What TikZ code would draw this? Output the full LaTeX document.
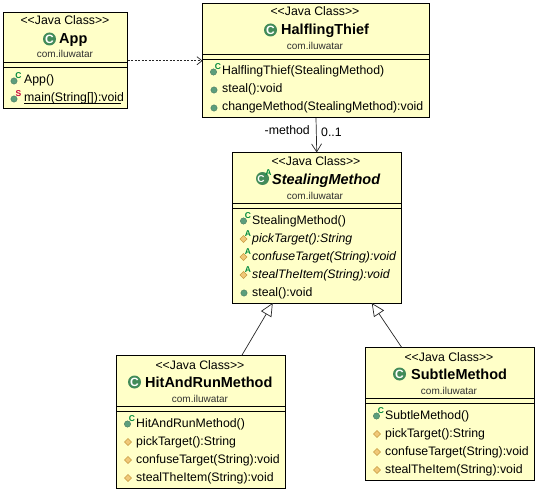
\documentclass[tikz,border=0pt]{standalone}
\usepackage{fontspec}
\setmainfont{Liberation Sans}
\usetikzlibrary{arrows.meta,calc}
\definecolor{boxfill}{HTML}{FFFFC8}
\definecolor{dotgreen}{HTML}{5C9E7C}
\definecolor{ctorgreen}{HTML}{008A3C}
\definecolor{statred}{HTML}{C8003C}
\definecolor{diam}{HTML}{F0C878}
\definecolor{diamedge}{HTML}{C89A40}
\definecolor{pkg}{HTML}{303030}
\tikzset{
  classbox/.style={draw=black,line width=1pt,fill=boxfill,inner sep=0pt,outer sep=0pt},
  divider/.style={line width=1pt,draw=black},
  stereo/.style={inner sep=0pt,anchor=base,font=\fontsize{12.3}{12.3}\selectfont},
  title/.style={inner sep=0pt,anchor=base west,font=\fontsize{14.5}{14.5}\selectfont\bfseries},
  pkgtext/.style={inner sep=0pt,anchor=base,text=pkg,font=\fontsize{10}{10}\selectfont},
  member/.style={inner sep=0pt,anchor=base west,font=\fontsize{12.3}{12.3}\selectfont},
  imember/.style={member,font=\fontsize{12.3}{12.3}\selectfont\itshape},
  wire/.style={line width=0.7pt,draw=black!85},
  badge/.style={inner sep=0pt,font=\fontsize{8.5}{8.5}\selectfont\bfseries},
}
\newcommand{\pubdot}[2]{\fill[dotgreen,draw=dotgreen!70!black,line width=.3pt] (#1,#2) circle (3.2pt);}
\newcommand{\ctordot}[2]{\fill[dotgreen,draw=dotgreen!70!black,line width=.3pt] (#1-.5,#2+1) circle (3.2pt);
  \node[badge,text=ctorgreen] at (#1+4,#2-4) {C};}
\newcommand{\statdot}[2]{\fill[dotgreen,draw=dotgreen!70!black,line width=.3pt] (#1-.5,#2+1) circle (3.2pt);
  \node[badge,text=statred] at (#1+4,#2-4) {S};}
\newcommand{\prodiam}[2]{\filldraw[fill=diam,draw=diamedge,line width=.4pt] (#1-3.5,#2) -- (#1,#2-3.5) -- (#1+3.5,#2) -- (#1,#2+3.5) -- cycle;}
\newcommand{\absdiam}[2]{\filldraw[fill=diam,draw=diamedge,line width=.4pt] (#1-4,#2+1) -- (#1-.5,#2-2.5) -- (#1+3,#2+1) -- (#1-.5,#2+4.5) -- cycle;
  \node[badge,text=ctorgreen] at (#1+4,#2-4) {A};}
\newcommand{\classicon}[2]{\fill[dotgreen!80!black!90!green] (#1,#2) circle (6.5pt);
  \node[inner sep=0pt,text=white,font=\fontsize{12}{12}\selectfont\bfseries] at (#1,#2) {C};}
\newcommand{\absicon}[2]{\fill[dotgreen!80!black!90!green] (#1,#2) circle (6.5pt);
  \node[inner sep=0pt,text=white,font=\fontsize{10}{10}\selectfont\bfseries] at (#1-1.5,#2+.5) {C};}
\begin{document}
\begin{tikzpicture}[x=1pt,y=-1pt]
\useasboundingbox (0,0) rectangle (538,492);
% boxes
\node[classbox,minimum width=124pt,minimum height=96.5pt] (app) at (65.5,60.75) {};
\node[classbox,minimum width=227pt,minimum height=114.5pt] (thief) at (316,60.75) {};
\node[classbox,minimum width=168.5pt,minimum height=150.5pt] (stealing) at (316.75,227.75) {};
\node[classbox,minimum width=168.5pt,minimum height=133pt] (hit) at (200.75,422) {};
\node[classbox,minimum width=168.5pt,minimum height=133pt] (subtle) at (449.75,414) {};
% dividers
\draw[divider] (app.west |- 0,63) -- (app.east |- 0,63) (app.west |- 0,68) -- (app.east |- 0,68);
\draw[divider] (thief.west |- 0,54.5) -- (thief.east |- 0,54.5) (thief.west |- 0,59.5) -- (thief.east |- 0,59.5);
\draw[divider] (stealing.west |- 0,203) -- (stealing.east |- 0,203) (stealing.west |- 0,208) -- (stealing.east |- 0,208);
\draw[divider] (hit.west |- 0,406.5) -- (hit.east |- 0,406.5) (hit.west |- 0,411.5) -- (hit.east |- 0,411.5);
\draw[divider] (subtle.west |- 0,398.5) -- (subtle.east |- 0,398.5) (subtle.west |- 0,403.5) -- (subtle.east |- 0,403.5);
% App
\node[stereo] (appS) at (65,25) {<{}<Java Class>{}>};
\classicon{49.5}{39}
\node[title] (appT) at (59,44) {App};
\node[pkgtext] (appP) at (65,58) {com.iluwatar};
\ctordot{14.5}{80}
\node[member] (appM1) at (24,84) {App()};
\statdot{14.5}{98}
\node[member] (appM2) at (24,102) {\rlap{\rule[-1.6pt]{97pt}{.9pt}}main(String[]):void};
% Thief
\node[stereo] (thS) at (315,16) {<{}<Java Class>{}>};
\classicon{270.5}{30}
\node[title] (thT) at (281,35) {HalflingThief};
\node[pkgtext] (thP) at (315,49.5) {com.iluwatar};
\ctordot{214}{71}
\node[member] (thM1) at (222,75) {HalflingThief(StealingMethod)};
\pubdot{214}{90}
\node[member] (thM2) at (222,93) {steal():void};
\pubdot{214}{108}
\node[member] (thM3) at (222,111) {changeMethod(StealingMethod):void};
% Stealing
\node[stereo] (stS) at (316,165) {<{}<Java Class>{}>};
\absicon{262.5}{178.5}
\node[badge,text=ctorgreen] at (268.5,172.5) {A};
\node[title,font=\fontsize{14.5}{14.5}\selectfont\bfseries\itshape] (stT) at (272,184) {StealingMethod};
\node[pkgtext] (stP) at (315,199) {com.iluwatar};
\ctordot{244}{220}
\node[member] (stM1) at (252,224) {StealingMethod()};
\absdiam{244}{238}
\node[imember] (stM2) at (252,242) {pickTarget():String};
\absdiam{244}{256}
\node[imember] (stM3) at (252,260) {confuseTarget(String):void};
\absdiam{244}{274}
\node[imember] (stM4) at (252,278) {stealTheItem(String):void};
\pubdot{244}{293}
\node[member] (stM5) at (252,296) {steal():void};
% Hit
\node[stereo] (hiS) at (200,369) {<{}<Java Class>{}>};
\classicon{134.5}{382}
\node[title] (hiT) at (145,387) {HitAndRunMethod};
\node[pkgtext] (hiP) at (200,402) {com.iluwatar};
\ctordot{128}{423}
\node[member] (hiM1) at (136,427) {HitAndRunMethod()};
\prodiam{128}{442}
\node[member] (hiM2) at (136,445) {pickTarget():String};
\prodiam{128}{460}
\node[member] (hiM3) at (136,463) {confuseTarget(String):void};
\prodiam{128}{478}
\node[member] (hiM4) at (136,481) {stealTheItem(String):void};
% Subtle
\node[stereo] (suS) at (449,361) {<{}<Java Class>{}>};
\classicon{399.5}{374}
\node[title] (suT) at (411,379) {SubtleMethod};
\node[pkgtext] (suP) at (449,394) {com.iluwatar};
\ctordot{377}{415}
\node[member] (suM1) at (385,419) {SubtleMethod()};
\prodiam{377}{434}
\node[member] (suM2) at (385,437) {pickTarget():String};
\prodiam{377}{452}
\node[member] (suM3) at (385,455) {confuseTarget(String):void};
\prodiam{377}{470}
\node[member] (suM4) at (385,473) {stealTheItem(String):void};
% connectors
\draw[wire,dashed,dash pattern=on 2pt off 1.5pt,-{Straight Barb[length=5pt,width=8pt,line width=.7pt]}] (app.east) -- (app.east -| thief.west);
\draw[wire,-{Straight Barb[length=8pt,width=10pt,line width=.7pt]}] (thief.south) -- (stealing.north);
\draw[wire,-{Triangle[open,length=13pt,width=12pt,fill=white,line width=.7pt]}] ([xshift=41pt]hit.north) -- ([xshift=-44pt]stealing.south);
\draw[wire,-{Triangle[open,length=13pt,width=12pt,fill=white,line width=.7pt]}] ([xshift=-48pt]subtle.north) -- ([xshift=55pt]stealing.south);
\node[member,anchor=base east] (lblM) at (310,135) {-method};
\node[member] (lblN) at (321,137) {0..1};
\end{tikzpicture}
\end{document}
